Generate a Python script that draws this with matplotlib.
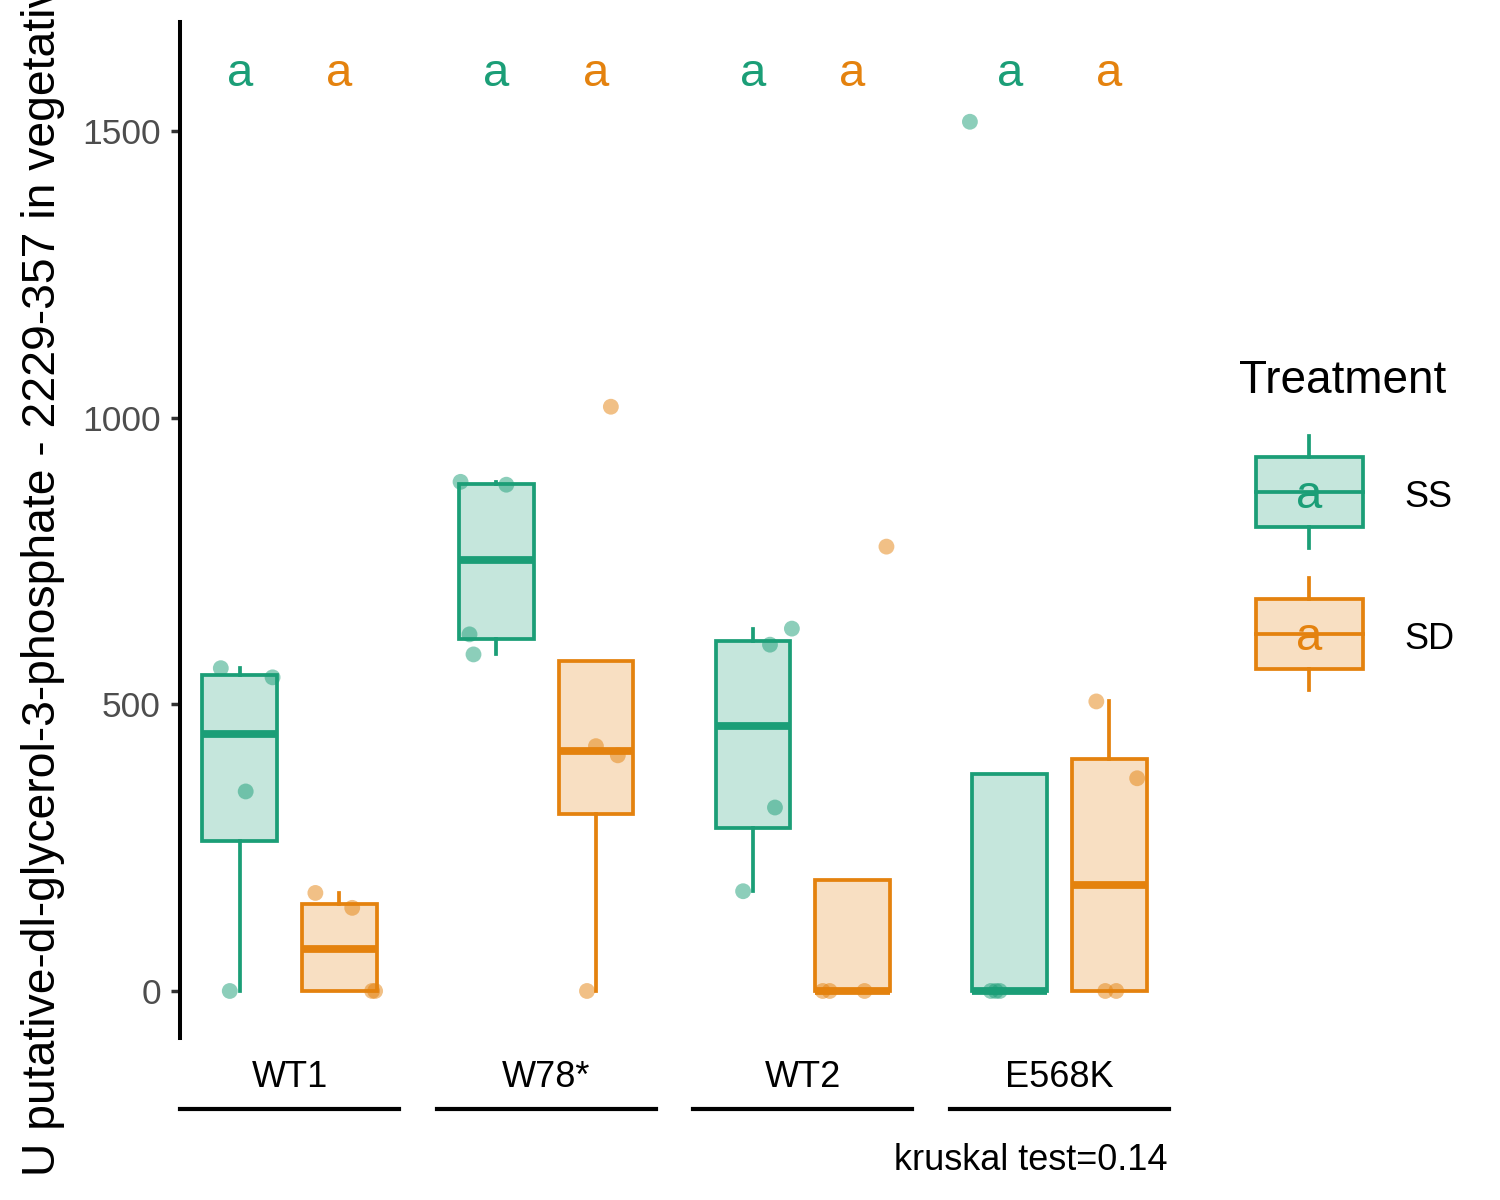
import matplotlib.pyplot as plt
import numpy as np
from matplotlib.colors import to_rgba
from matplotlib.patches import Rectangle
from matplotlib.transforms import Bbox, TransformedBbox

plt.rcParams['font.family'] = ['Liberation Sans', 'DejaVu Sans']

# data
genotypes = ["WT1", "W78*", "WT2", "E568K"]
treatments = ["SS", "SD"]
colors = {"SS": "#1B9E77", "SD": "#E4820E"}

ss_values = {
    "WT1": [563, 547, 348, 0],
    "W78*": [888, 883, 622, 587],
    "WT2": [632, 604, 320, 174],
    "E568K": [1516, 0, 0, 0],
}
sd_values = {
    "WT1": [171, 145, 0, 0],
    "W78*": [1019, 427, 411, 0],
    "WT2": [775, 0, 0, 0],
    "E568K": [505, 371, 0, 0],
}
# horizontal jitter of the points (category units)
ss_jitter = {
    "WT1": [-0.19, 0.33, 0.06, -0.10],
    "W78*": [-0.36, 0.10, -0.27, -0.23],
    "WT2": [0.39, 0.17, 0.22, -0.10],
    "E568K": [-0.40, -0.19, -0.10, -0.14],
}
sd_jitter = {
    "WT1": [-0.24, 0.13, 0.33, 0.36],
    "W78*": [0.15, 0.0, 0.22, -0.09],
    "WT2": [0.34, -0.30, -0.23, 0.12],
    "E568K": [-0.13, 0.28, -0.04, 0.07],
}
letters = {
    "WT1": ["a", "a"],
    "W78*": ["a", "a"],
    "WT2": ["a", "a"],
    "E568K": ["a", "a"],
}
values = {"SS": ss_values, "SD": sd_values}
jitter = {"SS": ss_jitter, "SD": sd_jitter}
letter_y = 1578
kruskal_p = 0.14
y_ticks = [0, 500, 1000, 1500]
y_label = "AU putative-dl-glycerol-3-phosphate - 2229-357 in vegetative tissue"

fig, axes = plt.subplots(1, 4, sharey=True, figsize=(15, 12), dpi=100)
fig.subplots_adjust(left=180 / 1500, right=1169 / 1500, top=1 - 22 / 1200,
                    bottom=1 - 1038 / 1200, wspace=0.172)

px = 72 / 100  # points per pixel

for ax, g in zip(axes, genotypes):
    for j, t in enumerate(treatments):
        c = colors[t]
        pos = j + 1
        vals = values[t][g]
        ax.boxplot(vals, positions=[pos], widths=0.75, patch_artist=True,
                   showfliers=False, showcaps=False,
                   boxprops=dict(facecolor=to_rgba(c, 0.25), edgecolor=c, linewidth=2.7),
                   medianprops=dict(color=c, linewidth=5.6, solid_capstyle="butt"),
                   whiskerprops=dict(color=c, linewidth=2.7))
        ax.scatter(pos + np.array(jitter[t][g]), vals, s=130, color=c, alpha=0.5,
                   edgecolors="none", zorder=3)
        ax.text(pos, letter_y, letters[g][j], color=c, fontsize=34,
                ha="center", va="baseline")

    ax.set_xlim(0.4, 2.6)
    ax.set_ylim(-82, 1690)
    ax.set_xticks([])
    for side in ["top", "right"]:
        ax.spines[side].set_visible(False)
    ax.spines["bottom"].set_position(("outward", 71 * px))
    ax.spines["bottom"].set_linewidth(3)
    ax.annotate(g, xy=(0.5, 0), xycoords="axes fraction", xytext=(0, -49 * px),
                textcoords="offset points", ha="center", va="baseline", fontsize=26)
    if ax is not axes[0]:
        ax.spines["left"].set_visible(False)
        ax.tick_params(axis="y", left=False, labelleft=False)

axes[0].set_yticks(y_ticks)
axes[0].spines["left"].set_linewidth(2.9)
axes[0].tick_params(axis="y", labelsize=25.5, labelcolor="#4D4D4D", color="#333333",
                    length=6.7, width=2.5, pad=7)

# the long y title overflows the figure, as in the reference; the leading "A"
# falls into the bottom plot margin and is cut there
ylab_size = 33.3
renderer = fig.canvas.get_renderer()
tmp1 = fig.text(0, 0, y_label[:10], fontsize=ylab_size)
tmp2 = fig.text(0, 0, y_label[1:10], fontsize=ylab_size)
prefix_w = (tmp1.get_window_extent(renderer).width
            - tmp2.get_window_extent(renderer).width)
tmp1.remove()
tmp2.remove()
u_start = 1200 - 1176  # display pixels from the bottom where "U" begins
ylab = fig.text(55 / 1500, (u_start - prefix_w) / 1200, y_label, rotation=90,
                rotation_mode="anchor", ha="left", va="baseline", fontsize=ylab_size)
ylab.set_clip_box(TransformedBbox(Bbox([[0, (u_start - 1) / 1200], [1, 1]]),
                                  fig.transFigure))
ylab.set_clip_on(True)

fig.text(1167 / 1500, 1 - 1170 / 1200, f"kruskal test={kruskal_p}", ha="right",
         va="baseline", fontsize=26)

# legend drawn in pixel coordinates
leg = fig.add_axes([0, 0, 1, 1])
leg.set_xlim(0, 1500)
leg.set_ylim(1200, 0)
leg.axis("off")
leg.text(1239, 393, "Treatment", fontsize=33, va="baseline")
for i, t in enumerate(treatments):
    c = colors[t]
    yc = 492 + i * 142
    leg.add_patch(Rectangle((1256, yc - 35), 107, 70, facecolor=to_rgba(c, 0.25),
                            edgecolor=c, linewidth=2.7))
    leg.plot([1256, 1363], [yc, yc], color=c, linewidth=2.7)
    leg.plot([1309, 1309], [yc - 56, yc - 35], color=c, linewidth=2.7)
    leg.plot([1309, 1309], [yc + 35, yc + 56], color=c, linewidth=2.7)
    leg.text(1309, yc + 16, "a", color=c, fontsize=34, ha="center", va="baseline")
    leg.text(1404, yc + 15, t, fontsize=26, va="baseline")

plt.savefig("out.png", dpi=100)
